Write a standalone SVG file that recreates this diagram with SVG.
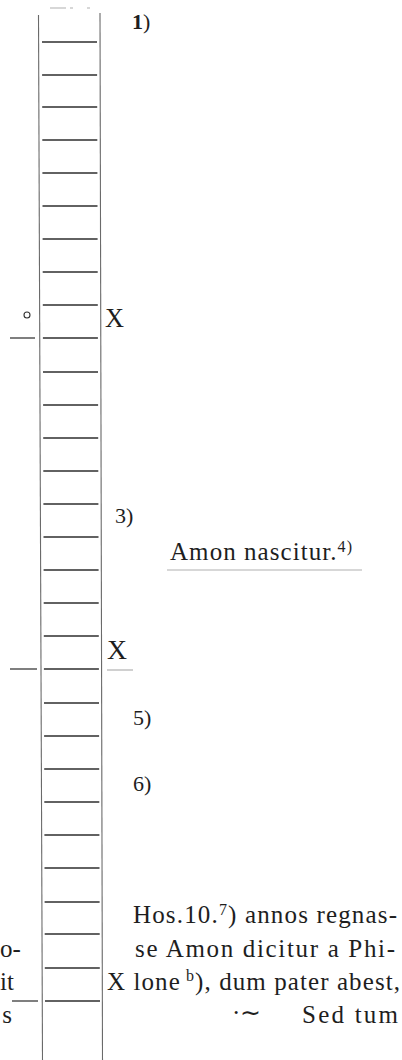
<svg xmlns="http://www.w3.org/2000/svg" width="402" height="1060" viewBox="0 0 402 1060">
<style>
.rung{stroke:#2e2e2e;stroke-width:1.6;fill:none}
.rail{stroke:#6a6a6a;stroke-width:1.1;fill:none}
.tick{stroke:#3a3a3a;stroke-width:1.3;fill:none}
.faint{stroke:#b0b0b0;stroke-width:1.2;fill:none}
.txt text{fill:#1e1e1e}
.note{font-size:22px}
.big{font-size:27px}
.body{font-size:25px}
.sup{font-size:16px}
</style>
<rect width="402" height="1060" fill="#ffffff"/>
<g id="ladder">
  <line class="faint" x1="50" y1="8" x2="90" y2="8" stroke-dasharray="16,4,3,14"/>
  <line class="rail" x1="38.5" y1="15" x2="42.5" y2="1060"/>
  <line class="rail" x1="100" y1="13" x2="102.5" y2="1060"/>
  <g id="rungs">
    <line class="rung" x1="42" y1="42" x2="97" y2="42"/>
    <line class="rung" x1="42.1" y1="75" x2="97.1" y2="75"/>
    <line class="rung" x1="42.2" y1="107" x2="97.2" y2="107"/>
    <line class="rung" x1="42.3" y1="140" x2="97.3" y2="140"/>
    <line class="rung" x1="42.4" y1="173" x2="97.4" y2="173"/>
    <line class="rung" x1="42.5" y1="206" x2="97.5" y2="206"/>
    <line class="rung" x1="42.6" y1="239" x2="97.6" y2="239"/>
    <line class="rung" x1="42.7" y1="272" x2="97.7" y2="272"/>
    <line class="rung" x1="42.8" y1="305" x2="97.8" y2="305"/>
    <line class="rung" x1="42.9" y1="338" x2="97.9" y2="338"/>
    <line class="rung" x1="43" y1="372" x2="98" y2="372"/>
    <line class="rung" x1="43.1" y1="405" x2="98.1" y2="405"/>
    <line class="rung" x1="43.2" y1="438" x2="98.2" y2="438"/>
    <line class="rung" x1="43.3" y1="471" x2="98.3" y2="471"/>
    <line class="rung" x1="43.4" y1="504" x2="98.4" y2="504"/>
    <line class="rung" x1="43.5" y1="537" x2="98.5" y2="537"/>
    <line class="rung" x1="43.6" y1="570" x2="98.6" y2="570"/>
    <line class="rung" x1="43.7" y1="603" x2="98.7" y2="603"/>
    <line class="rung" x1="43.8" y1="636" x2="98.8" y2="636"/>
    <line class="rung" x1="43.9" y1="669" x2="98.9" y2="669"/>
    <line class="rung" x1="44" y1="703" x2="99" y2="703"/>
    <line class="rung" x1="44.1" y1="736" x2="99.1" y2="736"/>
    <line class="rung" x1="44.2" y1="769" x2="99.2" y2="769"/>
    <line class="rung" x1="44.3" y1="802" x2="99.3" y2="802"/>
    <line class="rung" x1="44.4" y1="835" x2="99.4" y2="835"/>
    <line class="rung" x1="44.5" y1="868" x2="99.5" y2="868"/>
    <line class="rung" x1="44.6" y1="902" x2="99.6" y2="902"/>
    <line class="rung" x1="44.7" y1="934" x2="99.7" y2="934"/>
    <line class="rung" x1="44.8" y1="968" x2="99.8" y2="968"/>
    <line class="rung" x1="45" y1="1001" x2="100" y2="1001"/>
  </g>
  <g id="ticks">
    <line class="tick" x1="10" y1="338" x2="35" y2="338"/>
    <line class="tick" x1="10" y1="669" x2="37" y2="669"/>
    <line class="tick" x1="12" y1="1001" x2="38" y2="1001"/>
    <line class="faint" x1="107" y1="670" x2="133" y2="670"/>
  </g>
  <circle cx="27" cy="315" r="3" fill="none" stroke="#333" stroke-width="1.1"/>
</g>
<g class="txt" font-family="'Liberation Serif', 'Times New Roman', serif">
<g id="notes">
  <text class="note" x="132" y="29"><tspan font-weight="bold">1</tspan>)</text>
  <text class="big" x="105" y="327" textLength="19" lengthAdjust="spacingAndGlyphs">X</text>
  <text class="note" x="115" y="523">3)</text>
  <g id="amon">
    <text class="body" x="170" y="560" textLength="182" lengthAdjust="spacing">Amon nascitur.<tspan class="sup" dy="-8">4)</tspan></text>
    <line class="faint" x1="167" y1="570" x2="362" y2="570" stroke="#8a8a8a"/>
  </g>
  <text class="big" x="107" y="659" textLength="20" lengthAdjust="spacingAndGlyphs">X</text>
  <text class="note" x="133" y="725">5)</text>
  <text class="note" x="133" y="791">6)</text>
</g>
<g id="body-text">
  <text class="body" x="133" y="923" textLength="264" lengthAdjust="spacing">Hos.10.<tspan class="sup" dy="-8">7</tspan><tspan dy="8">) annos regnas-</tspan></text>
  <text class="body" x="135" y="957" textLength="260" lengthAdjust="spacing">se Amon dicitur a Phi-</text>
  <text class="body" x="107" y="990" textLength="293" lengthAdjust="spacing">X lone<tspan class="sup" dy="-9"> b</tspan><tspan dy="9">), dum pater abest,</tspan></text>
  <text class="body" x="232" y="1021" font-size="20">·∼</text>
  <text class="body" x="302" y="1023" textLength="96" lengthAdjust="spacing">Sed  tum</text>
  <text class="body" x="0" y="957" font-size="22">o-</text>
  <text class="body" x="14" y="990" text-anchor="end">it</text>
  <text class="body" x="12" y="1023" text-anchor="end">s</text>
</g>
</g>
</svg>
